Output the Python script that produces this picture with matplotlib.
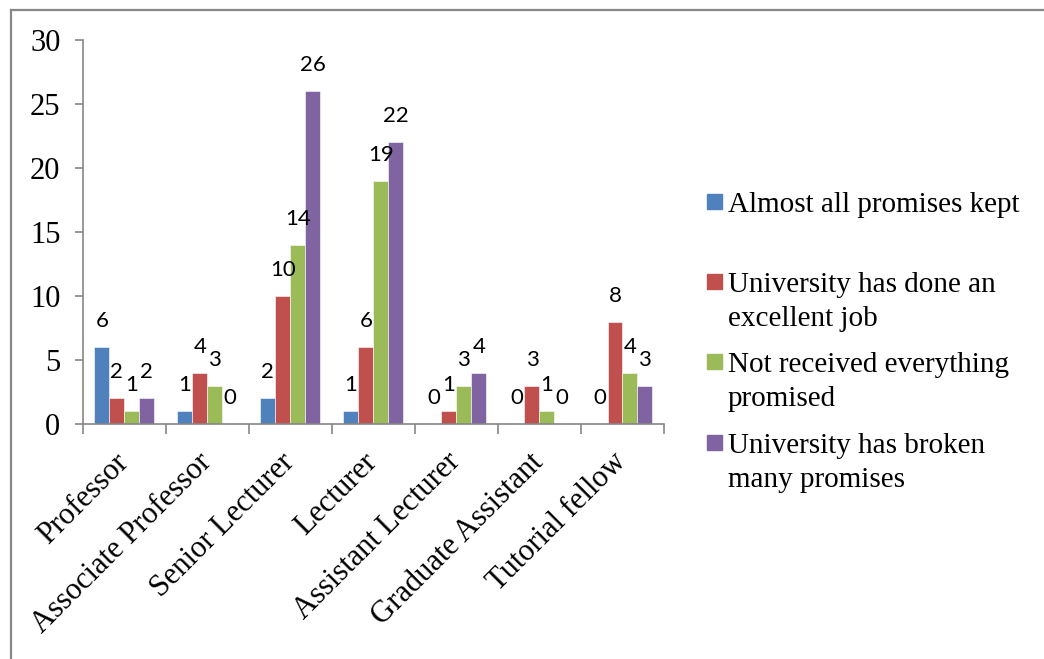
import matplotlib.pyplot as plt
import matplotlib.transforms as mtransforms
from matplotlib.patches import Rectangle
from matplotlib.lines import Line2D
import numpy as np

categories = ["Professor", "Associate Professor", "Senior Lecturer", "Lecturer",
              "Assistant Lecturer", "Graduate Assistant", "Tutorial fellow"]
series_names = ["Almost all promises kept",
                "University has done an\nexcellent job",
                "Not received everything\npromised",
                "University has broken\nmany promises"]
kept = [6, 1, 2, 1, 0, 0, 0]
excellent = [2, 4, 10, 6, 1, 3, 8]
not_received = [1, 3, 14, 19, 3, 1, 4]
broken = [2, 0, 26, 22, 4, 0, 3]
series_values = [kept, excellent, not_received, broken]
colors = ["#4F81BD", "#C0504D", "#9BBB59", "#8064A2"]

W, H = 1044, 659
fig = plt.figure(figsize=(W / 100, H / 100), dpi=100)
ax = fig.add_axes([82.7 / W, 1 - 424 / H, (664 - 82.7) / W, (424 - 40) / H])

# frame around the chart (only top and left edges visible)
fig.add_artist(Line2D([11 / W, 11 / W], [0, 1 - 10 / H], color="#888888", lw=1.6,
                      transform=fig.transFigure))
fig.add_artist(Line2D([11 / W, 1], [1 - 10 / H, 1 - 10 / H], color="#888888", lw=1.6,
                      transform=fig.transFigure))

x = np.arange(len(categories)) + 0.5
bw = 0.18
for i, (vals, col) in enumerate(zip(series_values, colors)):
    pos = x + (i - 1.5) * bw
    ax.bar(pos, vals, width=bw, color=col, edgecolor="white", linewidth=0.4)
    for px, v in zip(pos, vals):
        ax.annotate(str(v), (px, v), xytext=(0, 18.7), textcoords="offset points",
                    ha="center", va="center", fontsize=16, family="Lato")

ax.set_xlim(0, len(categories))
ax.set_ylim(0, 30)
ax.set_yticks(range(0, 31, 5))
ax.set_xticks(range(len(categories) + 1))
ax.set_xticklabels([])
ax.set_xticks(x, minor=True)
ax.set_xticklabels(categories, minor=True, rotation=45, ha="right",
                   family="Liberation Serif", fontsize=22)
ax.tick_params(axis="x", which="minor", length=0, pad=17)
ax.tick_params(axis="x", which="major", length=7, color="#868686", width=1.2)
ax.tick_params(axis="y", length=6, color="#868686", width=1.2, pad=10,
               labelsize=22)
for lab in ax.get_yticklabels():
    lab.set_family("Liberation Serif")
offset = mtransforms.ScaledTranslation(10 / 100, 0, fig.dpi_scale_trans)
for lab in ax.get_xticklabels(minor=True):
    lab.set_transform(lab.get_transform() + offset)

for s in ["top", "right"]:
    ax.spines[s].set_visible(False)
for s in ["left", "bottom"]:
    ax.spines[s].set_color("#868686")
    ax.spines[s].set_linewidth(1.2)

# legend drawn by hand so the marker sits next to the first text line
baselines = [212, 292, 372, 453]
for name, col, b in zip(series_names, colors, baselines):
    fig.add_artist(Rectangle((707 / W, 1 - (b - 3) / H), 15 / W, 15 / H,
                             transform=fig.transFigure, color=col))
    for k, line in enumerate(name.split("\n")):
        fig.text(728 / W, 1 - (b + 34 * k) / H, line, ha="left", va="baseline",
                 family="Liberation Serif", fontsize=21)

fig.savefig("out.png", dpi=100)
